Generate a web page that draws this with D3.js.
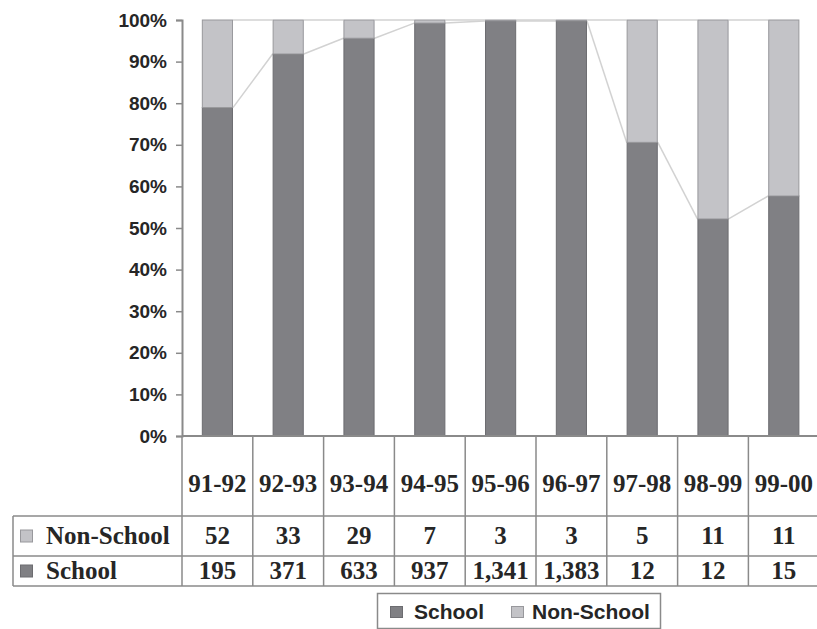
<!DOCTYPE html>
<html>
<head>
<meta charset="utf-8">
<script src="https://cdn.jsdelivr.net/npm/d3@7/dist/d3.min.js"></script>
<style>
  html, body { margin: 0; padding: 0; background: #ffffff; }
  svg { display: block; }
</style>
</head>
<body>
<script>
// School / non-school counts per school year, shown as 100% stacked columns
const years = ["91-92", "92-93", "93-94", "94-95", "95-96", "96-97", "97-98", "98-99", "99-00"];
const school = [195, 371, 633, 937, 1341, 1383, 12, 12, 15];
const nonSchool = [52, 33, 29, 7, 3, 3, 5, 11, 11];
const tickValues = [0, 0.1, 0.2, 0.3, 0.4, 0.5, 0.6, 0.7, 0.8, 0.9, 1];

const W = 817, H = 629;
const colors = {
  school: "#808084", schoolEdge: "#6c6c70",
  nonSchool: "#c3c3c7", nonSchoolEdge: "#98989c",
  seriesLine: "#d2d2d2", grid: "#8a8a8a", text: "#262626"
};

const svg = d3.select("body").append("svg").attr("width", W).attr("height", H);

const plotLeft = 182, step = 70.8;
const x = d3.scaleBand()
  .domain(years)
  .range([plotLeft, plotLeft + step * years.length])
  .paddingInner(0.56)
  .paddingOuter(0.28);
const y = d3.scaleLinear().domain([0, 1]).range([436, 20]);

const rows = years.map((yr, i) => ({
  year: yr, School: school[i], "Non-School": nonSchool[i]
}));
const stack = d3.stack().keys(["School", "Non-School"]).offset(d3.stackOffsetExpand);
const layers = stack(rows);

// Series lines joining the tops of each segment from column to column
layers.forEach(layer => {
  const segs = d3.pairs(layer);
  svg.append("g").selectAll("line").data(segs).join("line")
    .attr("x1", d => x(d[0].data.year) + x.bandwidth())
    .attr("y1", d => y(d[0][1]))
    .attr("x2", d => x(d[1].data.year))
    .attr("y2", d => y(d[1][1]))
    .attr("stroke", colors.seriesLine)
    .attr("stroke-width", 1.5);
});

// Columns
const fills = { "School": colors.school, "Non-School": colors.nonSchool };
const edges = { "School": colors.schoolEdge, "Non-School": colors.nonSchoolEdge };
svg.append("g").selectAll("g").data(layers).join("g")
  .attr("fill", d => fills[d.key])
  .attr("stroke", d => edges[d.key])
  .attr("stroke-width", 1)
  .selectAll("rect").data(d => d).join("rect")
    .attr("x", d => x(d.data.year) + 0.5)
    .attr("y", d => y(d[1]))
    .attr("width", x.bandwidth() - 1)
    .attr("height", d => y(d[0]) - y(d[1]));

// Value axis
const yAxis = svg.append("g")
  .attr("transform", `translate(${plotLeft},0)`)
  .call(d3.axisLeft(y).tickValues(tickValues).tickFormat(d3.format(".0%")).tickSize(6).tickPadding(9));
yAxis.select(".domain").attr("stroke", colors.grid).attr("stroke-width", 2);
yAxis.selectAll(".tick line").attr("stroke", colors.grid).attr("stroke-width", 1.5);
yAxis.selectAll(".tick text")
  .attr("fill", colors.text)
  .style("font-family", "'Liberation Sans', Arial, sans-serif")
  .style("font-size", "19px")
  .style("font-weight", "bold");

// Category baseline
svg.append("line")
  .attr("x1", plotLeft).attr("x2", W)
  .attr("y1", y(0)).attr("y2", y(0))
  .attr("stroke", colors.grid).attr("stroke-width", 2);

// Data table under the plot
const tableTop = y(0), headerBottom = 516, rowMid = 556, tableBottom = 586, tableLeft = 13;
const serif = "'Liberation Serif', 'Times New Roman', serif";
const tbl = svg.append("g");

// column separators
const bounds = d3.range(years.length + 1).map(i => plotLeft + i * x.step());
tbl.selectAll("line.col").data(bounds).join("line")
  .attr("class", "col")
  .attr("x1", d => d).attr("x2", d => d)
  .attr("y1", tableTop).attr("y2", tableBottom)
  .attr("stroke", colors.grid).attr("stroke-width", 1.5);

// row rules
[headerBottom, rowMid, tableBottom].forEach(yy => {
  tbl.append("line")
    .attr("x1", tableLeft).attr("x2", W)
    .attr("y1", yy).attr("y2", yy)
    .attr("stroke", colors.grid).attr("stroke-width", 1.5);
});
tbl.append("line")
  .attr("x1", tableLeft).attr("x2", tableLeft)
  .attr("y1", headerBottom).attr("y2", tableBottom)
  .attr("stroke", colors.grid).attr("stroke-width", 1.5);

// header labels
tbl.selectAll("text.hdr").data(years).join("text")
  .attr("class", "hdr")
  .attr("x", d => x(d) + x.bandwidth() / 2)
  .attr("y", 492)
  .attr("text-anchor", "middle")
  .attr("fill", colors.text)
  .style("font-family", serif).style("font-size", "25px").style("font-weight", "bold")
  .text(d => d);

const fmt = d3.format(",");
const tableRows = [
  { key: "Non-School", values: nonSchool, base: 544, top: headerBottom, h: rowMid - headerBottom },
  { key: "School", values: school, base: 579, top: rowMid, h: tableBottom - rowMid }
];
tableRows.forEach(r => {
  tbl.append("rect")
    .attr("x", 20.5).attr("y", r.top + r.h / 2 - 6)
    .attr("width", 12).attr("height", 12)
    .attr("fill", fills[r.key]).attr("stroke", edges[r.key]).attr("stroke-width", 1);
  tbl.append("text")
    .attr("x", 46).attr("y", r.base)
    .attr("fill", colors.text)
    .style("font-family", serif).style("font-size", "25px").style("font-weight", "bold")
    .text(r.key);
  tbl.selectAll(null).data(r.values).join("text")
    .attr("x", (d, i) => x(years[i]) + x.bandwidth() / 2)
    .attr("y", r.base)
    .attr("text-anchor", "middle")
    .attr("fill", colors.text)
    .style("font-family", serif).style("font-size", "25px").style("font-weight", "bold")
    .text(d => fmt(d));
});

// Legend
const lg = svg.append("g");
lg.append("rect")
  .attr("x", 377.5).attr("y", 593.5).attr("width", 283).attr("height", 35)
  .attr("fill", "#ffffff").attr("stroke", colors.grid).attr("stroke-width", 1.5);
const legendItems = [
  { key: "School", sx: 390, tx: 414 },
  { key: "Non-School", sx: 511, tx: 532 }
];
legendItems.forEach(it => {
  lg.append("rect")
    .attr("x", it.sx + 0.5).attr("y", 606.5).attr("width", 12).attr("height", 11)
    .attr("fill", fills[it.key]).attr("stroke", edges[it.key]).attr("stroke-width", 1);
  lg.append("text")
    .attr("x", it.tx).attr("y", 619)
    .attr("fill", colors.text)
    .style("font-family", "'Liberation Sans', Arial, sans-serif")
    .style("font-size", "21px").style("font-weight", "bold")
    .text(it.key);
});
</script>
</body>
</html>
